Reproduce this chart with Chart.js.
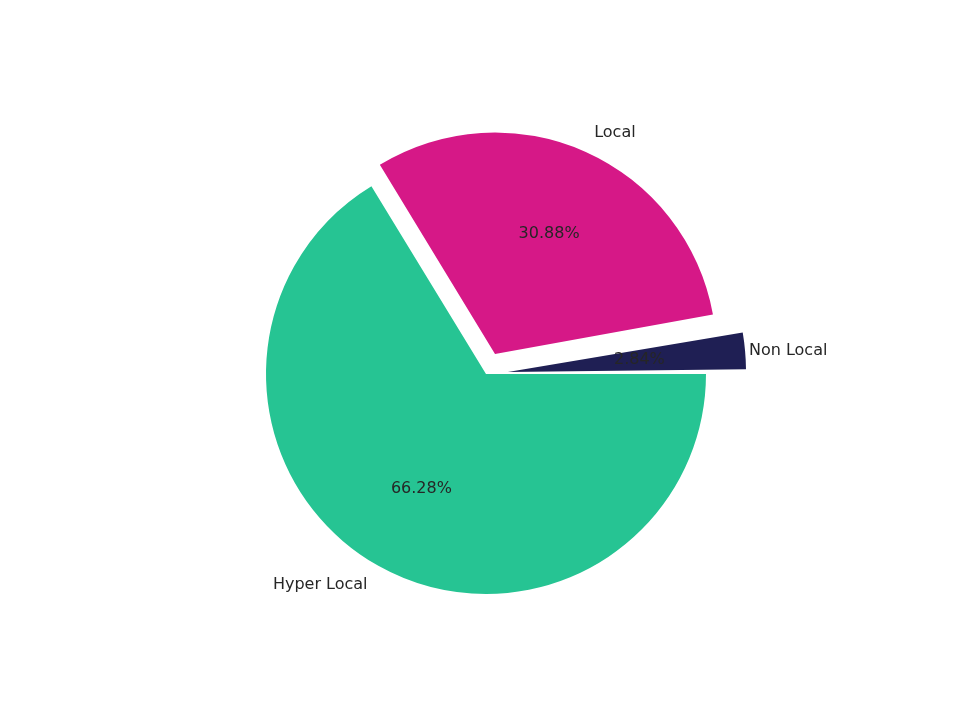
<!DOCTYPE html>
<html><head><meta charset="utf-8">
<script src="https://cdn.jsdelivr.net/npm/chart.js@4/dist/chart.umd.min.js"></script>
<style>body{margin:0;background:#fff}#w{width:960px;height:720px}</style>
</head><body><div id="w"><canvas id="c"></canvas></div>
<script>
const categories = ["Hyper Local", "Local", "Non Local"];
const values = [66.28, 30.88, 2.84];
const colors = ["#26c493", "#d61887", "#1f1f54"];
const explode = [0, 22, 22];

const labelPlugin = {
  id: 'lbl',
  afterDatasetsDraw(chart) {
    const ctx = chart.ctx;
    const meta = chart.getDatasetMeta(0);
    ctx.save();
    ctx.font = '16px "DejaVu Sans"';
    ctx.fillStyle = '#262626';
    meta.data.forEach((arc, i) => {
      const p = arc.getProps(['x','y','startAngle','endAngle','outerRadius'], true);
      const mid = (p.startAngle + p.endAngle) / 2;
      const r = p.outerRadius;
      const off = explode[i];
      const c = Math.cos(mid), s = Math.sin(mid);
      const lx = p.x + c * (r * 1.1 + off), ly = p.y + s * (r * 1.1 + off);
      ctx.textBaseline = 'middle';
      ctx.textAlign = c >= 0 ? 'left' : 'right';
      ctx.fillText(categories[i], lx, ly);
      const px = p.x + c * (r * 0.6 + off), py = p.y + s * (r * 0.6 + off);
      ctx.textAlign = 'center';
      ctx.fillText(values[i].toFixed(2) + '%', px, py);
    });
    ctx.restore();
  }
};

new Chart(document.getElementById('c'), {
  type: 'pie',
  data: { labels: categories, datasets: [{ data: values, backgroundColor: colors, borderWidth: 0, offset: explode.map(v => v * 4) }] },
  options: {
    responsive: true, maintainAspectRatio: false, animation: false,
    rotation: 90, radius: 220,
    layout: { padding: { left: 12, top: 28 } },
    plugins: { legend: { display: false }, tooltip: { enabled: false } }
  },
  plugins: [labelPlugin]
});
</script></body></html>
